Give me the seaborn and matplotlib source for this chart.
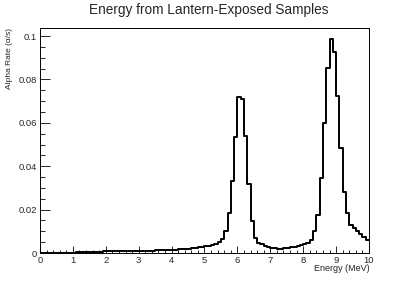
import matplotlib

matplotlib.use("Agg")
import matplotlib.pyplot as plt
import numpy as np
import pandas as pd
import seaborn as sns
from matplotlib.ticker import MultipleLocator

# histogram: 100 bins of 0.1 MeV from 0 to 10 MeV
N_BINS = 100
E_MIN, E_MAX = 0.0, 10.0
bin_centers = np.linspace(E_MIN, E_MAX, N_BINS + 1)[:-1] + (E_MAX - E_MIN) / N_BINS / 2

# alpha rate per bin (alpha/s)
rate_0_1 = [0.00002, 0.00003, 0.00004, 0.00005, 0.00007, 0.00009, 0.00011, 0.00013, 0.00016, 0.0002]
rate_1_2 = [0.00023, 0.00027, 0.00031, 0.00036, 0.0004, 0.00046, 0.00052, 0.00058, 0.00064, 0.0007]
rate_2_3 = [0.00075, 0.0008, 0.00083, 0.00086, 0.00089, 0.00092, 0.00095, 0.00098, 0.001, 0.00102]
rate_3_4 = [0.00105, 0.00108, 0.0011, 0.00112, 0.00115, 0.00118, 0.0012, 0.00125, 0.0013, 0.00138]
rate_4_5 = [0.00145, 0.00155, 0.00165, 0.00178, 0.0019, 0.00205, 0.0022, 0.0024, 0.0026, 0.0029]
rate_5_6 = [0.0031, 0.0034, 0.0038, 0.0043, 0.0050, 0.0063, 0.0103, 0.0183, 0.0334, 0.0536]
rate_6_7 = [0.0720, 0.0712, 0.0540, 0.0317, 0.0147, 0.0068, 0.0048, 0.0040, 0.0034, 0.0028]
rate_7_8 = [0.0024, 0.0021, 0.0020, 0.0020, 0.0021, 0.0023, 0.0026, 0.0029, 0.0032, 0.0036]
rate_8_9 = [0.0041, 0.0047, 0.0060, 0.0103, 0.0175, 0.0344, 0.0598, 0.0851, 0.0986, 0.0928]
rate_9_10 = [0.0723, 0.0484, 0.0283, 0.0184, 0.0129, 0.0115, 0.0103, 0.0088, 0.0075, 0.0060]

rates = (
    rate_0_1 + rate_1_2 + rate_2_3 + rate_3_4 + rate_4_5
    + rate_5_6 + rate_6_7 + rate_7_8 + rate_8_9 + rate_9_10
)

TITLE = "Energy from Lantern-Exposed Samples"
X_LABEL = "Energy (MeV)"
Y_LABEL = "Alpha Rate (\u03b1/s)"

df = pd.DataFrame({"energy": bin_centers, "rate": rates})

sns.set_style("ticks")
plt.rcParams["font.family"] = ["Liberation Sans", "DejaVu Sans"]

fig = plt.figure(figsize=(4.11, 2.81), dpi=100)
ax = fig.add_axes([0.0973, 0.0996, 0.8005, 0.8008])

sns.histplot(
    data=df,
    x="energy",
    weights="rate",
    bins=N_BINS,
    binrange=(E_MIN, E_MAX),
    element="step",
    fill=False,
    color="black",
    linewidth=1.4,
    ax=ax,
)

ax.set_xlim(E_MIN, E_MAX)
ax.set_ylim(0, 0.1037)
ax.xaxis.set_major_locator(MultipleLocator(1))
ax.xaxis.set_minor_locator(MultipleLocator(0.2))
ax.yaxis.set_minor_locator(MultipleLocator(0.005))
ax.set_yticks([0, 0.02, 0.04, 0.06, 0.08, 0.1], ["0", "0.02", "0.04", "0.06", "0.08", "0.1"])

ax.tick_params(axis="x", which="major", direction="in", length=5, width=0.7, labelsize=6.8, pad=2)
ax.tick_params(axis="x", which="minor", direction="in", length=2.5, width=0.7)
ax.tick_params(axis="y", which="major", direction="in", length=7, width=0.7, labelsize=6.8, pad=2)
ax.tick_params(axis="y", which="minor", direction="in", length=3.5, width=0.7)

for spine in ax.spines.values():
    spine.set_visible(True)
    spine.set_linewidth(0.7)
    spine.set_color("black")

ax.set_xlabel("")
ax.set_ylabel("")
fig.text(0.9, 0.046, X_LABEL, ha="right", va="center", fontsize=6.5)
fig.text(0.022, 0.9, Y_LABEL, ha="center", va="top", rotation=90, fontsize=6)
fig.text(0.507, 0.963, TITLE, ha="center", va="center", fontsize=9.8)

fig.savefig("out.png", dpi=100)
plt.close(fig)
